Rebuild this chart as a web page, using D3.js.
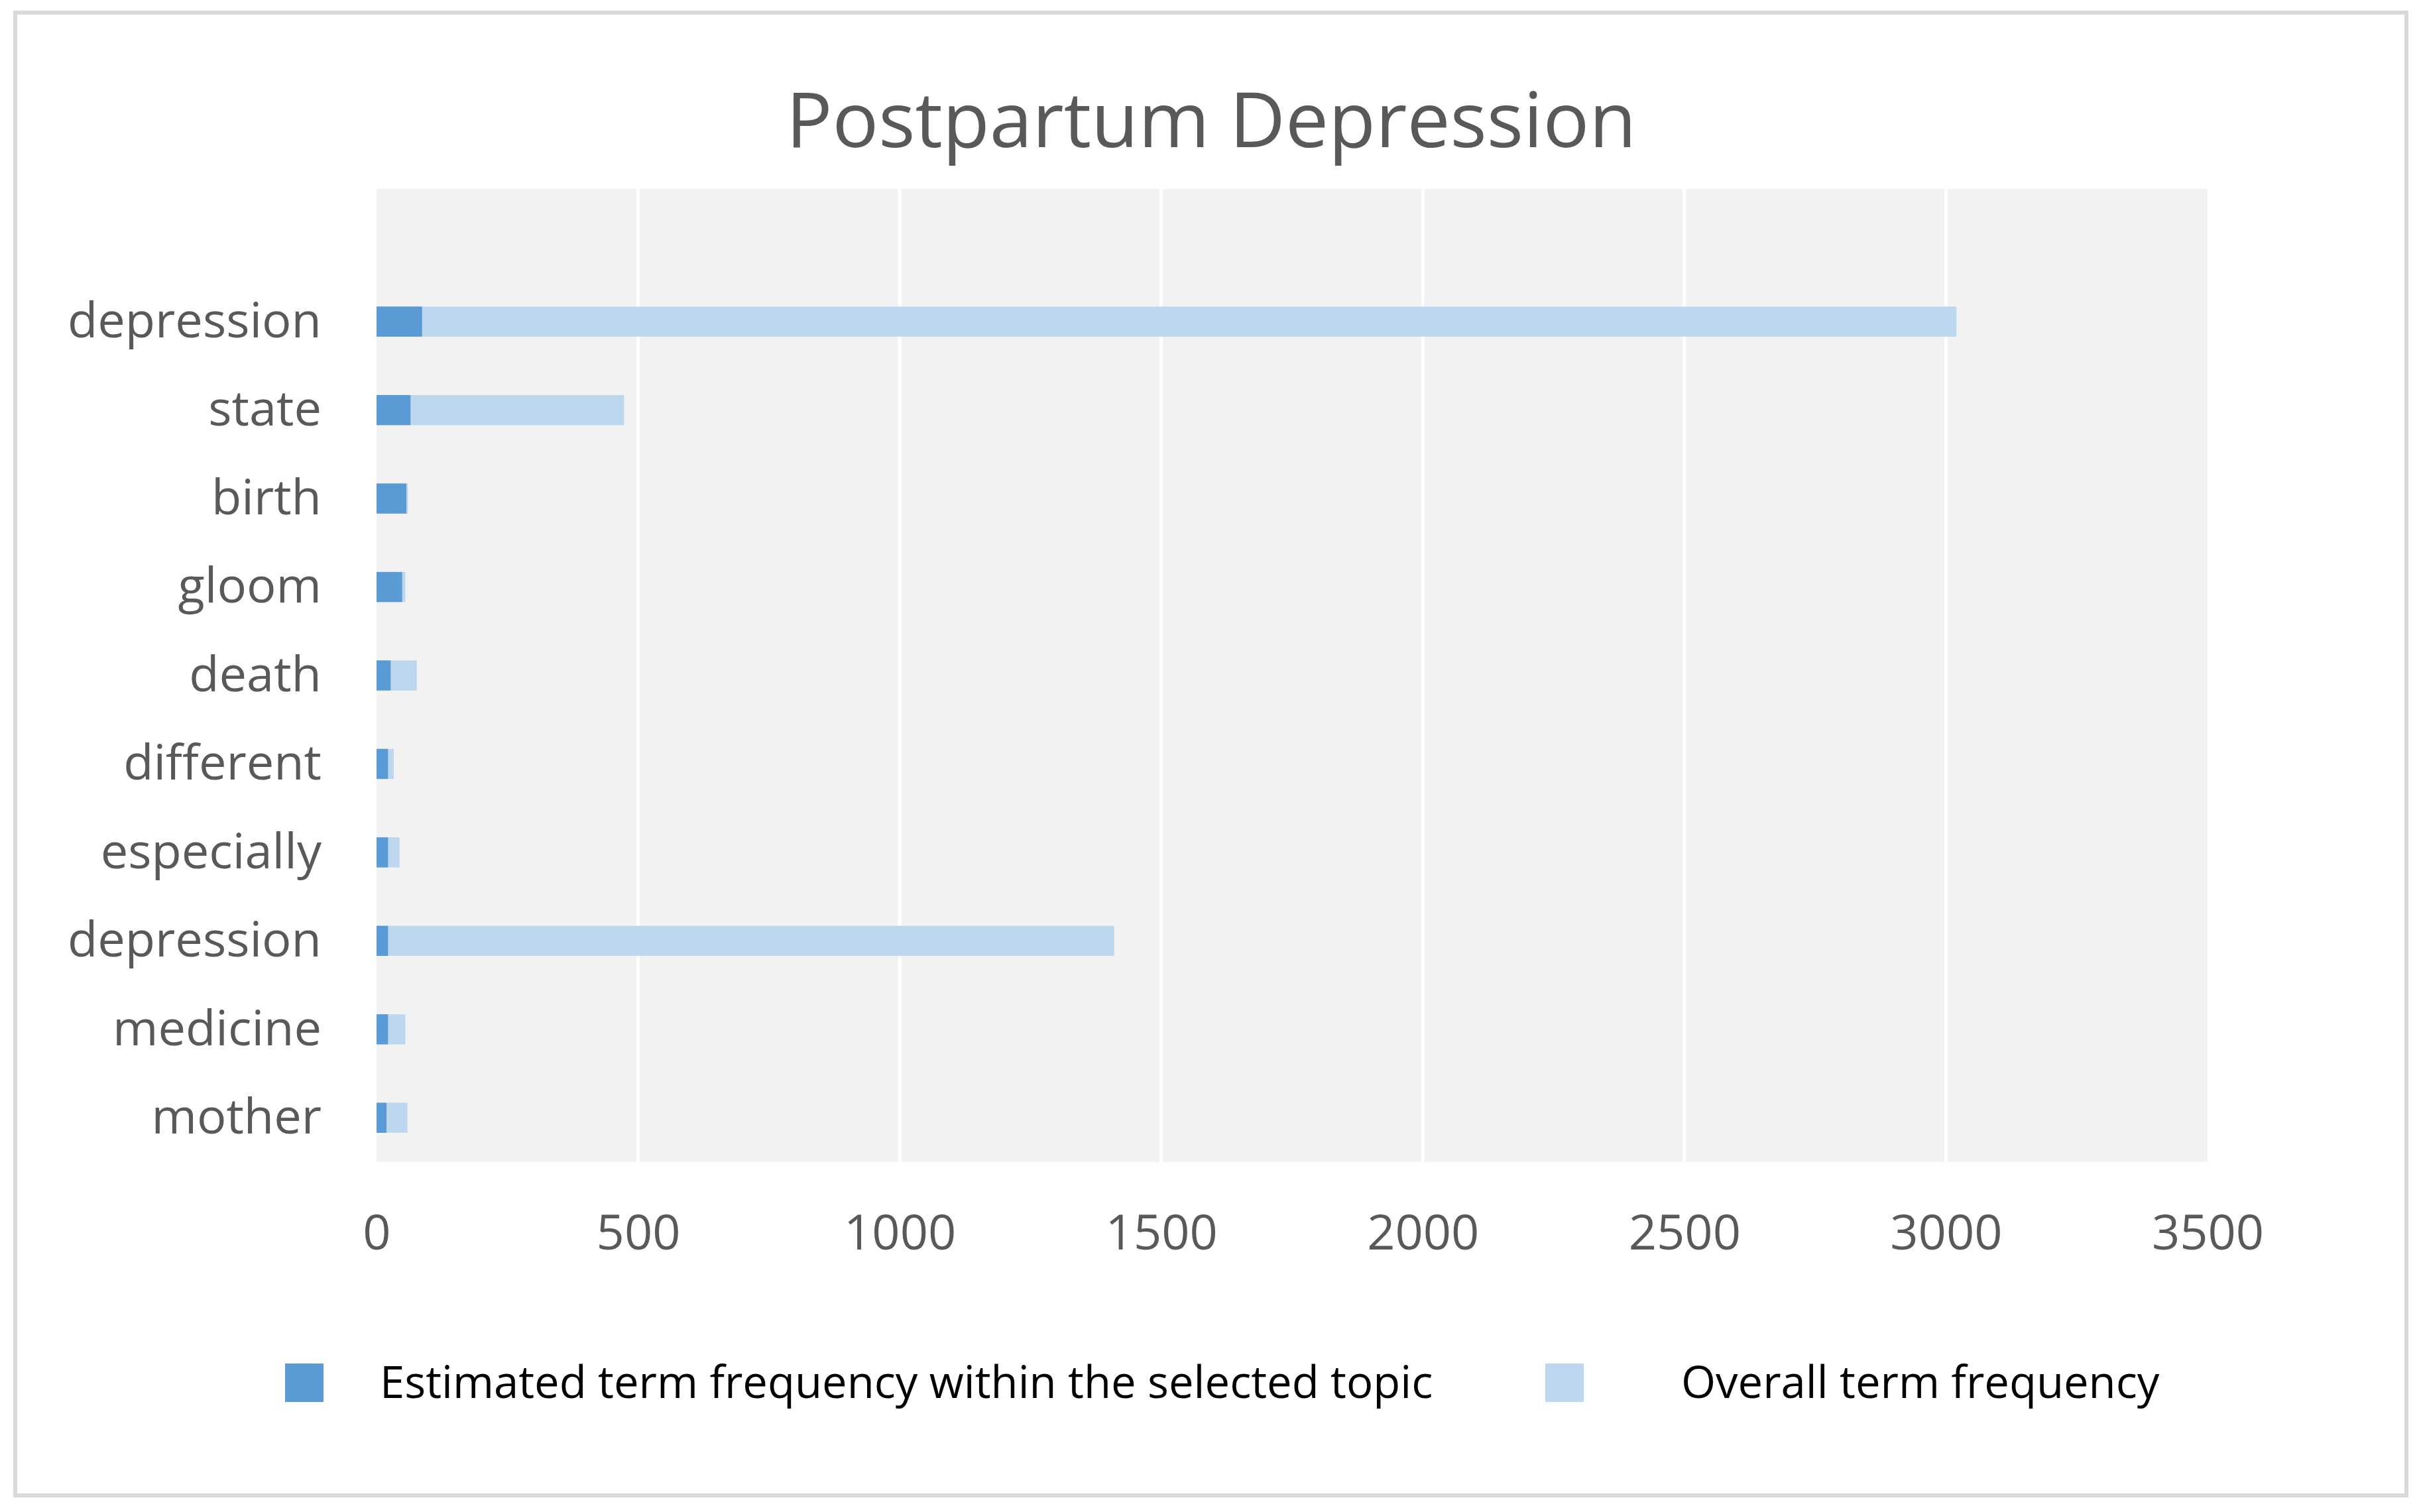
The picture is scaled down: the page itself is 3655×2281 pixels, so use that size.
<!DOCTYPE html>
<html>
<head>
<meta charset="utf-8">
<script src="https://cdn.jsdelivr.net/npm/d3@7"></script>
<style>
  html, body { margin: 0; padding: 0; background: #fff; }
</style>
</head>
<body>
<div id="chart"></div>
<script>
// terms, top to bottom (first slot is the empty category Excel leaves on top)
const terms = ["", "depression", "state", "birth", "gloom", "death", "different",
  "especially", "depression", "medicine", "mother"];

// estimated term frequency within the selected topic
const estimated = [null, 87, 65, 57, 49, 27, 22, 22, 22, 22, 19];

// overall term frequency
const overall = [null, 3020, 473, 60, 55, 77, 33, 44, 1410, 55, 59];

const xTicks = [0, 500, 1000, 1500, 2000, 2500, 3000, 3500];

const seriesNames = ["Estimated term frequency within the selected topic", "Overall term frequency"];
const seriesColors = ["#5b9bd5", "#bdd7ee"];

const width = 3655, height = 2281;
const marginTop = 285, marginRight = 325, marginBottom = 528, marginLeft = 568;
const font = "'Open Sans', sans-serif";

const svg = d3.select("#chart").append("svg")
  .attr("width", width)
  .attr("height", height)
  .style("display", "block");

// chart frame
svg.append("rect")
  .attr("x", 23).attr("y", 19)
  .attr("width", 3607).attr("height", 2237)
  .attr("fill", "#fff")
  .attr("stroke", "#d9d9d9")
  .attr("stroke-width", 6);

const x = d3.scaleLinear()
  .domain([0, 3500])
  .range([marginLeft, width - marginRight]);

const y = d3.scaleBand()
  .domain(d3.range(terms.length))
  .range([marginTop, height - marginBottom])
  .paddingInner(0.66)
  .paddingOuter(0.33);

// plot background
svg.append("rect")
  .attr("x", x(0)).attr("y", marginTop)
  .attr("width", x(3500) - x(0))
  .attr("height", height - marginBottom - marginTop)
  .attr("fill", "#f2f2f2");

// gridlines
svg.append("g")
  .selectAll("line")
  .data(xTicks.slice(1, -1))
  .join("line")
    .attr("x1", d => x(d)).attr("x2", d => x(d))
    .attr("y1", marginTop).attr("y2", height - marginBottom)
    .attr("stroke", "#fff")
    .attr("stroke-width", 5);

// overall bars (behind)
const rows = terms.map((t, i) => ({ i, term: t, est: estimated[i], all: overall[i] }))
  .filter(d => d.term !== "");

svg.append("g")
  .selectAll("rect")
  .data(rows)
  .join("rect")
    .attr("x", x(0))
    .attr("y", d => y(d.i))
    .attr("width", d => x(d.all) - x(0))
    .attr("height", y.bandwidth())
    .attr("fill", seriesColors[1]);

// estimated bars (front)
svg.append("g")
  .selectAll("rect")
  .data(rows)
  .join("rect")
    .attr("x", x(0))
    .attr("y", d => y(d.i))
    .attr("width", d => x(d.est) - x(0))
    .attr("height", y.bandwidth())
    .attr("fill", seriesColors[0]);

// y axis
svg.append("g")
  .attr("transform", `translate(${marginLeft - 83},0)`)
  .call(d3.axisLeft(y).tickSize(0).tickPadding(0).tickFormat(i => terms[i]))
  .call(g => g.select(".domain").remove())
  .call(g => g.selectAll("text")
    .attr("dy", "0.32em")
    .style("font-family", font)
    .style("font-size", "74px")
    .attr("fill", "#595959"));

// x axis
svg.append("g")
  .attr("transform", `translate(0,${height - marginBottom + 108})`)
  .call(d3.axisBottom(x).tickValues(xTicks).tickSize(0).tickPadding(0).tickFormat(d3.format("d")))
  .call(g => g.select(".domain").remove())
  .call(g => g.selectAll("text")
    .attr("dy", "0.32em")
    .style("font-family", font)
    .style("font-size", "74px")
    .attr("fill", "#595959"));

// title
svg.append("text")
  .attr("x", 1827)
  .attr("y", 222)
  .attr("text-anchor", "middle")
  .style("font-family", font)
  .style("font-size", "116px")
  .attr("fill", "#595959")
  .text("Postpartum Depression");

// legend
const legendX = [430, 2331];
const legendTextX = [573, 2536];
const legend = svg.append("g")
  .selectAll("g")
  .data(seriesNames)
  .join("g");

legend.append("rect")
  .attr("x", (d, i) => legendX[i])
  .attr("y", 2057)
  .attr("width", 58).attr("height", 58)
  .attr("fill", (d, i) => seriesColors[i]);

legend.append("text")
  .attr("x", (d, i) => legendTextX[i])
  .attr("y", 2109)
  .style("font-family", font)
  .style("font-size", "67px")
  .attr("fill", "#000")
  .text(d => d);
</script>
</body>
</html>
